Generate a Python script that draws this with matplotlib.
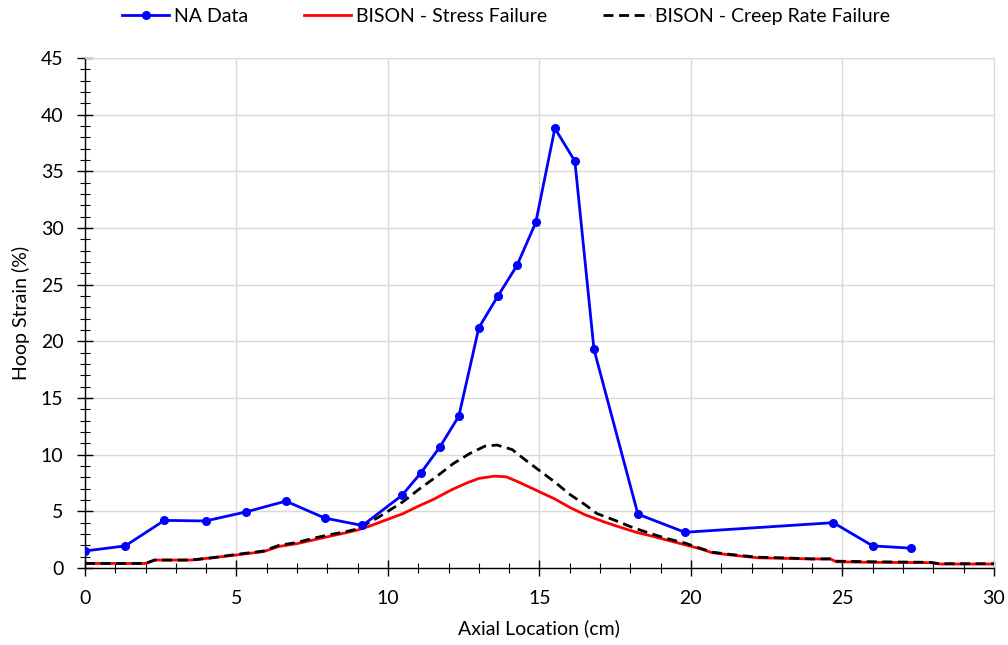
import numpy as np
import matplotlib.pyplot as plt
from matplotlib.ticker import MultipleLocator

plt.rcParams['font.family'] = ['Lato', 'DejaVu Sans']

# NA measured data
na_x = [0.0, 1.33, 2.62, 3.98, 5.32, 6.63, 7.92, 9.16, 10.46, 11.09, 11.72, 12.34,
        13.0, 13.63, 14.26, 14.88, 15.51, 16.17, 16.8, 18.25, 19.8, 24.7, 26.0, 27.26]
na_y = [1.5, 1.95, 4.2, 4.15, 4.95, 5.9, 4.4, 3.75, 6.4, 8.4, 10.7, 13.4,
        21.2, 24.0, 26.7, 30.5, 38.8, 35.9, 19.3, 4.75, 3.15, 4.0, 1.95, 1.75]

# BISON - stress failure
red_x = [0, 2.0, 2.3, 3.5, 4.2, 5.0, 5.9, 6.4, 7.0, 7.5, 8.0, 8.6, 9.0, 9.4, 9.9,
         10.5, 11.0, 11.5, 12.1, 12.6, 13.0, 13.5, 13.9, 14.3, 14.9, 15.5, 16.0,
         16.5, 17.1, 17.6, 18.2, 18.8, 19.3, 19.8, 20.3, 20.7, 21.3, 22.2, 23.0,
         24.0, 24.6, 24.8, 26.0, 27.9, 28.2, 30]
red_y = [0.4, 0.4, 0.7, 0.7, 0.9, 1.15, 1.45, 1.9, 2.15, 2.45, 2.75, 3.1, 3.35, 3.7, 4.2,
         4.8, 5.45, 6.05, 6.9, 7.5, 7.9, 8.1, 8.05, 7.6, 6.85, 6.1, 5.35,
         4.7, 4.1, 3.65, 3.15, 2.75, 2.4, 2.05, 1.7, 1.35, 1.15, 0.9, 0.85,
         0.8, 0.8, 0.55, 0.5, 0.47, 0.35, 0.35]

# BISON - creep rate failure
blk_x = [0, 2.0, 2.3, 3.5, 4.2, 5.0, 5.9, 6.4, 7.0, 7.5, 8.0, 8.6, 9.0, 9.7,
         10.5, 11.05, 11.6, 12.15, 12.7, 13.2, 13.6, 14.1, 14.6, 15.0, 15.5, 16.0,
         16.5, 16.9, 17.5, 18.0, 18.6, 19.2, 19.8, 20.3, 20.7, 21.3, 22.2, 23.0,
         24.0, 24.6, 24.8, 26.0, 27.9, 28.2, 30]
blk_y = [0.4, 0.4, 0.7, 0.7, 0.9, 1.2, 1.5, 2.0, 2.25, 2.6, 2.9, 3.2, 3.45, 4.5,
         5.85, 7.0, 8.06, 9.2, 10.1, 10.75, 10.85, 10.45, 9.4, 8.6, 7.6, 6.5,
         5.6, 4.8, 4.2, 3.65, 3.1, 2.6, 2.2, 1.75, 1.4, 1.2, 0.95, 0.9,
         0.8, 0.8, 0.6, 0.55, 0.5, 0.38, 0.38]

fig = plt.figure(figsize=(10.08, 6.45), dpi=100)
ax = fig.add_axes([0.0843, 0.1194, 0.9017, 0.7906])

ax.plot(na_x, na_y, color='#0000ff', lw=2, marker='o', ms=5.5, label='NA Data', zorder=4)
ax.plot(red_x, red_y, color='#ff0000', lw=2, label='BISON - Stress Failure', zorder=3)
ax.plot(blk_x, blk_y, color='black', lw=2, ls=(0, (3.6, 2.0)), label='BISON - Creep Rate Failure', zorder=3)

ax.set_xlim(0, 30)
ax.set_ylim(0, 45)
ax.xaxis.set_major_locator(MultipleLocator(5))
ax.xaxis.set_minor_locator(MultipleLocator(1))
ax.yaxis.set_major_locator(MultipleLocator(5))
ax.yaxis.set_minor_locator(MultipleLocator(1))
ax.tick_params(which='major', direction='inout', length=11, width=1, labelsize=14, colors='black')
ax.tick_params(which='minor', direction='inout', length=7, width=0.8)
ax.tick_params(axis='x', which='major', pad=10)
ax.tick_params(axis='y', which='major', pad=10)
ax.grid(which='major', color='#d9d9d9', lw=1)
ax.set_axisbelow(True)
for s in ['top', 'right']:
    ax.spines[s].set_color('#d9d9d9')
for s in ['left', 'bottom']:
    ax.spines[s].set_linewidth(1)

ax.set_xlabel('Axial Location (cm)', fontsize=14, labelpad=9)
ax.set_ylabel('Hoop Strain (%)', fontsize=14, labelpad=8)

fig.legend(loc='upper center', bbox_to_anchor=(0.502, 1.015), ncol=3, frameon=False,
           fontsize=14, handlelength=2.4, columnspacing=2.9, handletextpad=0.25)

fig.savefig('out.png', dpi=100)
